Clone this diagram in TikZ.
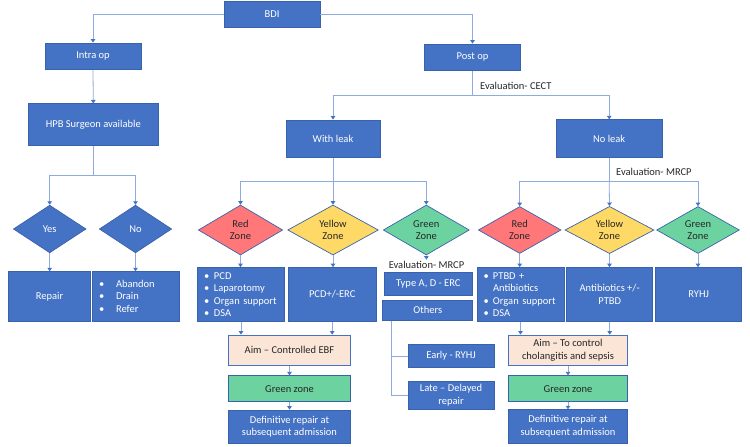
\documentclass[tikz,border=0pt]{standalone}
\usepackage{fontspec}
\setmainfont{Carlito}
\usepackage{xcolor}
\usetikzlibrary{shapes.geometric,arrows.meta}
\definecolor{BDBlue}{HTML}{4472C4}
\definecolor{BDEdge}{HTML}{3A62AC}
\definecolor{BDLine}{HTML}{8FAADC}
\definecolor{BDRed}{HTML}{FF7779}
\definecolor{BDYellow}{HTML}{FFD966}
\definecolor{BDGreen}{HTML}{6CD3A0}
\definecolor{BDPeach}{HTML}{FBE5D6}
\definecolor{BDText}{HTML}{262626}
\newcommand{\itm}[2][10pt]{\makebox[#1][l]{\textbullet}#2}
\newcommand{\bdfont}{\fontsize{10.5}{12.5}\selectfont\hyphenpenalty=10000\relax}
\tikzset{
  box/.style 2 args={draw=BDEdge,fill=BDBlue,text=white,line width=0.7pt,minimum width=#1,minimum height=#2,inner sep=2pt,align=center},
  listbox/.style={box={0pt}{#1},align=left,inner xsep=6.5pt,text width=74pt},
  dia/.style 2 args={diamond,draw=BDEdge,fill=BDBlue,text=white,line width=0.7pt,minimum width=#1,minimum height=#2,inner sep=0pt,align=center},
  reddia/.style={fill=BDRed,text=BDText},
  yeldia/.style={fill=BDYellow,text=BDText},
  grndia/.style={fill=BDGreen,text=BDText},
  aimbox/.style={fill=BDPeach,draw=BDBlue,text=BDText},
  zonebox/.style={fill=BDGreen,text=BDText},
  lbl/.style={text=BDText,inner sep=1pt},
  plain/.style={draw=BDLine,line width=0.8pt},
  link/.style={plain,-{Triangle[width=4.5pt,length=3.5pt,color=BDBlue]}}
}
\begin{document}
\begin{tikzpicture}[x=1pt,y=-1pt,every node/.style={font=\bdfont}]
\path[use as bounding box] (0,0) rectangle (750,447);
\node[box={96}{25.6}] (bdi) at (272,14.5) {BDI};
\node[box={96}{26.7}] (intra) at (93,56.3) {Intra op};
\node[box={130.7}{42}] (hpb) at (93.3,124.8) {HPB Surgeon available};
\node[box={96.4}{26.7}] (post) at (472.5,57.3) {Post op};
\node[lbl,anchor=west] (evalct) at (479,86) {Evaluation- CECT};
\node[box={94}{37.5}] (wleak) at (333,138.7) {With leak};
\node[box={106.3}{37.5}] (nleak) at (609.2,138.5) {No leak};
\node[dia={72.7}{47.7}] (yes) at (49.7,229) {Yes};
\node[dia={72.4}{47.7}] (no) at (135.5,229) {No};
\node[box={82.4}{49.3}] (repair) at (49.5,296.3) {Repair};
\node[listbox={49.3}] (abandon) at (136,296.3) {\itm[17pt]{Abandon}\\\itm[17pt]{Drain}\\\itm[17pt]{Refer}};
\node[dia={84.4}{50},reddia] (reda) at (240.5,230) {Red\\Zone};
\node[dia={90.6}{50},yeldia] (yela) at (333,230) {Yellow\\Zone};
\node[dia={86}{50},grndia] (grna) at (426.3,230) {Green\\Zone};
\node[listbox={54}] (pcd) at (241,294.5) {\itm{PCD}\\\itm{Laparotomy}\\\itm{Organ support}\\\itm{DSA}};
\node[box={87.7}{54}] (pcderc) at (332.2,294.5) {PCD+/-ERC};
\node[lbl] (evalm) at (426.5,264.5) {Evaluation- MRCP};
\node[box={88.7}{23.4}] (typead) at (428.3,284) {Type A, D - ERC};
\node[box={90}{20.7}] (others) at (427.7,310.3) {Others};
\node[box={86}{23.4}] (early) at (451,356) {Early - RYHJ};
\node[box={86}{28}] (late) at (451,395) {Late -- Delayed\\repair};
\node[box={122.4}{30.7},aimbox] (aima) at (289.5,350.3) {Aim -- Controlled EBF};
\node[box={122.4}{26},zonebox] (gza) at (289.5,388.7) {Green zone};
\node[box={122.4}{33.3}] (defa) at (289.5,426.7) {Definitive repair at\\subsequent admission};
\node[lbl,anchor=west] (evalmr) at (615,172.3) {Evaluation- MRCP};
\node[dia={82.7}{47},reddia] (redb) at (519.7,230) {Red\\Zone};
\node[dia={89}{47},yeldia] (yelb) at (609.5,230) {Yellow\\Zone};
\node[dia={82.7}{47},grndia] (grnb) at (698,230) {Green\\Zone};
\node[listbox={54}] (ptbd) at (520.5,294.5) {\itm[9.5pt]{PTBD +}\\\hspace*{9.5pt}Antibiotics\\\itm[9.5pt]{Organ support}\\\itm[9.5pt]{DSA}};
\node[box={86}{54}] (antib) at (609.7,294.5) {Antibiotics +/-\\PTBD};
\node[box={86}{54}] (ryhj) at (698.7,294.5) {RYHJ};
\node[box={119.4}{30.7},aimbox] (aimb) at (568,350.3) {Aim -- To control\\cholangitis and sepsis};
\node[box={119.4}{26},zonebox] (gzb) at (568,388.7) {Green zone};
\node[box={119.4}{33.3}] (defb) at (568,426.3) {Definitive repair at\\subsequent admission};
\coordinate (hpbj) at (93.3,175);
\coordinate (postj) at (472.5,95.7);
\coordinate (wlj) at (333,181.7);
\coordinate (nlj) at (609.2,181.7);
\draw[link] (bdi.west) -| (intra.north);
\draw[link] (bdi.east) -| (post.north);
\draw[link] (intra.south) -- (hpb.north);
\draw[plain] (hpb.south) -- (hpbj);
\draw[link] (hpbj) -| (yes.north);
\draw[link] (hpbj) -| (no.north);
\draw[link] (yes.south) -- (yes.south |- repair.north);
\draw[link] (no.south) -- (no.south |- abandon.north);
\draw[plain] (post.south) -- (postj);
\draw[link] (postj) -| (wleak.north);
\draw[link] (postj) -| (nleak.north);
\draw[plain] (wleak.south) -- (wlj);
\draw[link] (wlj) -| (reda.north);
\draw[link] (wlj) -- (yela.north);
\draw[link] (wlj) -| (grna.north);
\draw[link] (reda.south) -- (reda.south |- pcd.north);
\draw[link] (yela.south) -- (yela.south |- pcderc.north);
\draw[link] (grna.south) -- (evalm.north);
\draw[plain] ([xshift=9pt]others.south west) |- (early.west);
\draw[plain] ([xshift=9pt]others.south west) |- (late.west);
\draw[link] (pcd.south) -- (pcd.south |- aima.north);
\draw[link] (pcderc.south) -- (pcderc.south |- aima.north);
\draw[link] (aima.south) -- (gza.north);
\draw[link] (gza.south) -- (defa.north);
\draw[plain] (nleak.south) -- (nlj);
\draw[link] (nlj) -| (redb.north);
\draw[link] (nlj) -- (yelb.north);
\draw[link] (nlj) -| (grnb.north);
\draw[link] (redb.south) -- (redb.south |- ptbd.north);
\draw[link] (yelb.south) -- (yelb.south |- antib.north);
\draw[link] (grnb.south) -- (grnb.south |- ryhj.north);
\draw[link] (ptbd.south) -- (ptbd.south |- aimb.north);
\draw[link] (antib.south) -- (antib.south |- aimb.north);
\draw[link] (aimb.south) -- (gzb.north);
\draw[link] (gzb.south) -- (defb.north);
\end{tikzpicture}
\end{document}
